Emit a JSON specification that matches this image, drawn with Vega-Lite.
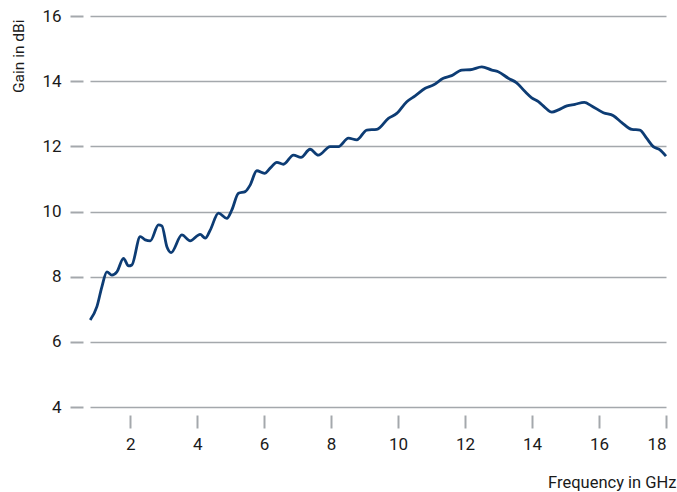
{
  "$schema": "https://vega.github.io/schema/vega-lite/v6.json",
  "autosize": "none",
  "width": 576,
  "height": 391,
  "padding": {"left": 90, "top": 16, "right": 11, "bottom": 85},
  "background": "white",
  "config": {
    "view": {"stroke": null},
    "font": "Roboto",
    "axis": {
      "labelFont": "Roboto",
      "titleFont": "Roboto",
      "labelFontSize": 17,
      "titleFontSize": 15,
      "titleFontWeight": "normal",
      "labelColor": "#1a1a1a",
      "titleColor": "#1a1a1a",
      "domain": false,
      "tickColor": "#a4a8ac",
      "tickWidth": 2,
      "tickSize": 13,
      "gridColor": "#a4a8ac",
      "gridWidth": 1.5
    }
  },
  "data": {
    "values": [
      {"f": 0.806, "g": 6.67}, {"f": 1.006, "g": 7.08}, {"f": 1.155, "g": 7.69},
      {"f": 1.304, "g": 8.15}, {"f": 1.454, "g": 8.05}, {"f": 1.603, "g": 8.15},
      {"f": 1.80, "g": 8.56}, {"f": 1.95, "g": 8.33}, {"f": 2.05, "g": 8.36},
      {"f": 2.30, "g": 9.23}, {"f": 2.45, "g": 9.13}, {"f": 2.60, "g": 9.10},
      {"f": 2.845, "g": 9.59}, {"f": 2.946, "g": 9.56}, {"f": 3.096, "g": 8.92},
      {"f": 3.224, "g": 8.74}, {"f": 3.543, "g": 9.28}, {"f": 3.79, "g": 9.10},
      {"f": 4.09, "g": 9.30}, {"f": 4.24, "g": 9.18}, {"f": 4.39, "g": 9.43},
      {"f": 4.636, "g": 9.95}, {"f": 4.887, "g": 9.79}, {"f": 5.036, "g": 10.05},
      {"f": 5.233, "g": 10.56}, {"f": 5.433, "g": 10.61}, {"f": 5.582, "g": 10.81},
      {"f": 5.78, "g": 11.25}, {"f": 6.01, "g": 11.17}, {"f": 6.18, "g": 11.33},
      {"f": 6.38, "g": 11.51}, {"f": 6.576, "g": 11.45}, {"f": 6.875, "g": 11.73},
      {"f": 7.10, "g": 11.66}, {"f": 7.37, "g": 11.91}, {"f": 7.62, "g": 11.73},
      {"f": 7.97, "g": 11.99}, {"f": 8.22, "g": 11.99}, {"f": 8.516, "g": 12.25},
      {"f": 8.767, "g": 12.20}, {"f": 9.066, "g": 12.50}, {"f": 9.364, "g": 12.52},
      {"f": 9.71, "g": 12.86}, {"f": 9.96, "g": 13.01}, {"f": 10.26, "g": 13.37},
      {"f": 10.51, "g": 13.55}, {"f": 10.81, "g": 13.78}, {"f": 11.05, "g": 13.88},
      {"f": 11.35, "g": 14.09}, {"f": 11.60, "g": 14.17}, {"f": 11.90, "g": 14.34},
      {"f": 12.15, "g": 14.35}, {"f": 12.50, "g": 14.44}, {"f": 12.80, "g": 14.34},
      {"f": 12.99, "g": 14.29}, {"f": 13.29, "g": 14.09}, {"f": 13.54, "g": 13.95},
      {"f": 13.79, "g": 13.68}, {"f": 13.99, "g": 13.49}, {"f": 14.19, "g": 13.37},
      {"f": 14.39, "g": 13.19}, {"f": 14.59, "g": 13.05}, {"f": 14.79, "g": 13.12},
      {"f": 15.04, "g": 13.24}, {"f": 15.28, "g": 13.29}, {"f": 15.56, "g": 13.35},
      {"f": 15.78, "g": 13.24}, {"f": 16.13, "g": 13.03}, {"f": 16.43, "g": 12.94},
      {"f": 16.68, "g": 12.73}, {"f": 16.98, "g": 12.52}, {"f": 17.22, "g": 12.50},
      {"f": 17.42, "g": 12.25}, {"f": 17.62, "g": 11.99}, {"f": 17.82, "g": 11.89},
      {"f": 18.0, "g": 11.70}
    ]
  },
  "mark": {"type": "line", "interpolate": "monotone", "color": "#0d3c74", "strokeWidth": 2.8, "clip": false},
  "encoding": {
    "x": {
      "field": "f",
      "type": "quantitative",
      "scale": {"domain": [0.8, 18], "nice": false, "zero": false},
      "axis": {
        "title": "Frequency in GHz",
        "values": [2, 4, 6, 8, 10, 12, 14, 16, 18],
        "grid": false,
        "offset": 8,
        "labelPadding": 8,
        "titleFontSize": 16.5,
        "titleAnchor": "end",
        "titleAlign": "right",
        "titleBaseline": "alphabetic",
        "titleX": 586,
        "titleY": 72
      }
    },
    "y": {
      "field": "g",
      "type": "quantitative",
      "scale": {"domain": [4, 16], "nice": false, "zero": false},
      "axis": {
        "title": "Gain in dBi",
        "values": [4, 6, 8, 10, 12, 14, 16],
        "offset": 7,
        "labelPadding": 9,
        "titleFontSize": 15.5,
        "titleAnchor": "end",
        "titleAlign": "right",
        "titleY": 3,
        "titleX": -65,
        "titleBaseline": "middle"
      }
    }
  }
}
